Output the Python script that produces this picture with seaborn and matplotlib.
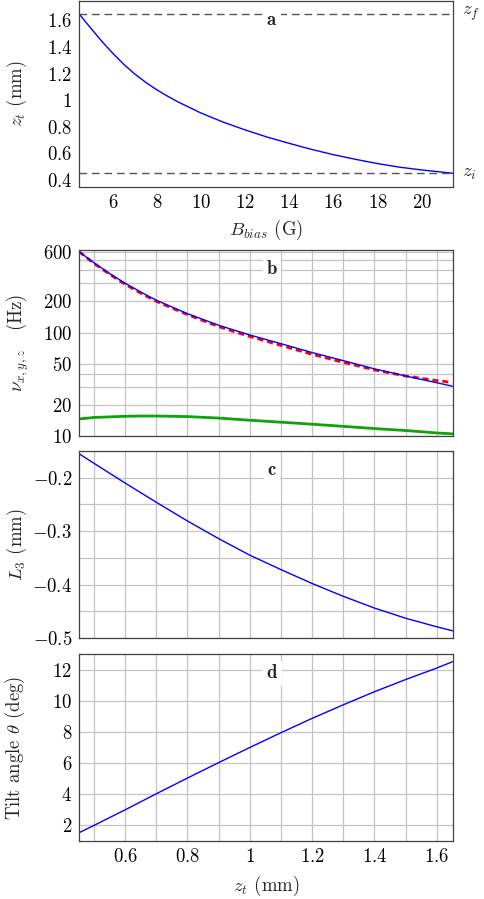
import matplotlib
matplotlib.use("Agg")
import matplotlib.pyplot as plt
import seaborn as sns
from matplotlib.ticker import FixedLocator, MultipleLocator, FuncFormatter, NullFormatter
from matplotlib.transforms import blended_transform_factory

# === Data ===
b_bias = [4.47, 4.75, 5, 5.5, 6, 6.5, 7, 7.5, 8, 8.5, 9, 10, 11, 12, 13, 14, 15, 16,
          17, 18, 19, 20, 21, 21.42]
z_t_vs_b = [1.65, 1.592, 1.542, 1.443, 1.352, 1.269, 1.196, 1.133, 1.077, 1.028, 0.983,
            0.903, 0.835, 0.776, 0.722, 0.675, 0.63, 0.59, 0.555, 0.523, 0.496, 0.475,
            0.4575, 0.45]
z_f, z_i = 1.65, 0.45

z_t_freq = [0.452, 0.5, 0.55, 0.6, 0.65, 0.7, 0.8, 0.9, 1.0, 1.1, 1.2, 1.3, 1.4, 1.5, 1.6, 1.65]
nu_xy_blue = [605, 472, 372, 299, 246, 205, 152, 117.5, 94.6, 78, 64, 53.5, 44.5, 38, 32.7, 30.3]
nu_xy_red = [605, 465, 366, 292, 240, 200, 149, 114, 91.5, 75, 61.5, 51.5, 43.5, 38, 34.3, 33]
nu_z_green = [14.6, 15.1, 15.3, 15.5, 15.6, 15.6, 15.4, 14.9, 14.2, 13.6, 13.0, 12.4, 11.8, 11.3, 10.7, 10.5]

z_t = [0.452, 0.5, 0.6, 0.7, 0.8, 0.9, 1.0, 1.1, 1.2, 1.3, 1.4, 1.5, 1.6, 1.65]
l3 = [-0.155, -0.173, -0.210, -0.246, -0.281, -0.314, -0.345, -0.372, -0.398,
      -0.422, -0.444, -0.463, -0.479, -0.4865]
tilt = [1.53, 2.0, 3.0, 4.03, 5.04, 6.03, 7.0, 7.95, 8.87, 9.74, 10.58, 11.36, 12.1, 12.5]

# === Style ===
sns.set_style("white")
plt.rcParams.update({
    "font.family": "serif",
    "font.serif": ["cmr10", "DejaVu Serif"],
    "mathtext.fontset": "cm",
    "axes.formatter.use_mathtext": True,
    "font.size": 13.5,
    "axes.edgecolor": "#404040",
    "axes.linewidth": 0.9,
    "xtick.direction": "in",
    "ytick.direction": "in",
    "xtick.color": "#707070",
    "ytick.color": "#707070",
    "xtick.labelcolor": "black",
    "ytick.labelcolor": "black",
    "xtick.major.size": 3.5,
    "ytick.major.size": 3.5,
    "xtick.minor.size": 2.0,
    "ytick.minor.size": 2.0,
    "xtick.major.width": 0.6,
    "ytick.major.width": 0.6,
    "xtick.minor.width": 0.6,
    "ytick.minor.width": 0.6,
    "xtick.major.pad": 5,
    "ytick.major.pad": 5,
})

fmt = FuncFormatter(lambda v, p: f"${v:g}$")
grid_kw = dict(color="#c4c4c4", linewidth=0.9)

fig = plt.figure(figsize=(4.84, 8.99), dpi=100)
left, width = 79 / 484, 374 / 484
ax_a = fig.add_axes([left, 1 - 187 / 899, width, 186 / 899])
ax_b = fig.add_axes([left, 1 - 436 / 899, width, 186 / 899])
ax_c = fig.add_axes([left, 1 - 638 / 899, width, 187 / 899])
ax_d = fig.add_axes([left, 1 - 841 / 899, width, 187 / 899])


def panel_tag(ax, letter):
    ax.text(0.516, 1 - 19 / 186, rf"$\mathbf{{{letter}}}$", transform=ax.transAxes,
            ha="center", va="center", fontsize=13.5, zorder=5,
            bbox=dict(facecolor="white", edgecolor="none", pad=2.5))


def place_ylabel(ax, x):
    ax.yaxis.set_label_coords(x, 0.5)
    ax.yaxis.label.set_verticalalignment("center")


# === Panel a: z_t vs B_bias ===
sns.lineplot(x=b_bias, y=z_t_vs_b, ax=ax_a, color="blue", linewidth=1.0,
             estimator=None, sort=False)
for zz in (z_f, z_i):
    ax_a.axhline(zz, color="#555555", linewidth=1.0, dashes=(5.5, 3.5))
ax_a.set_xlim(4.47, 21.42)
ax_a.set_ylim(0.347, 1.745)
ax_a.xaxis.set_major_locator(MultipleLocator(2))
ax_a.xaxis.set_minor_locator(MultipleLocator(1))
ax_a.yaxis.set_major_locator(MultipleLocator(0.2))
ax_a.yaxis.set_minor_locator(MultipleLocator(0.1))
ax_a.xaxis.set_major_formatter(fmt)
ax_a.yaxis.set_major_formatter(fmt)
ax_a.set_xlabel(r"$B_{bias}$ (G)", labelpad=4)
ax_a.set_ylabel(r"$z_t$ (mm)")
place_ylabel(ax_a, -0.166)
tr = blended_transform_factory(ax_a.transAxes, ax_a.transData)
ax_a.text(1.025, z_f, r"$z_f$", transform=tr, ha="left", va="center", fontsize=13.5)
ax_a.text(1.025, z_i, r"$z_i$", transform=tr, ha="left", va="center", fontsize=13.5)
panel_tag(ax_a, "a")

# === Panel b: trap frequencies (log) ===
sns.lineplot(x=z_t_freq, y=nu_xy_blue, ax=ax_b, color="blue", linewidth=1.0,
             estimator=None, sort=False, zorder=4)
sns.lineplot(x=z_t_freq, y=nu_xy_red, ax=ax_b, color="red", linewidth=2.0,
             estimator=None, sort=False, zorder=3)
ax_b.lines[-1].set_dashes((2.2, 1.4))
sns.lineplot(x=z_t_freq, y=nu_z_green, ax=ax_b, color="#10a010", linewidth=2.0,
             estimator=None, sort=False, zorder=3)
ax_b.set_yscale("log")
ax_b.set_ylim(10, 627)
ax_b.yaxis.set_major_locator(FixedLocator([10, 20, 50, 100, 200, 600]))
ax_b.yaxis.set_minor_locator(FixedLocator([30, 40, 300, 400, 500]))
ax_b.yaxis.set_major_formatter(fmt)
ax_b.yaxis.set_minor_formatter(NullFormatter())
ax_b.set_ylabel(r"$\nu_{x,y,z}$   (Hz)")
place_ylabel(ax_b, -0.163)
ax_b.grid(True, which="both", axis="y", **grid_kw)
panel_tag(ax_b, "b")

# === Panel c: L3 ===
sns.lineplot(x=z_t, y=l3, ax=ax_c, color="blue", linewidth=1.0,
             estimator=None, sort=False, zorder=4)
ax_c.set_ylim(-0.5, -0.15)
ax_c.yaxis.set_major_locator(MultipleLocator(0.1))
ax_c.yaxis.set_minor_locator(MultipleLocator(0.05))
ax_c.yaxis.set_major_formatter(fmt)
ax_c.set_ylabel(r"$L_3$ (mm)")
place_ylabel(ax_c, -0.166)
ax_c.grid(True, which="both", axis="y", **grid_kw)
panel_tag(ax_c, "c")

# === Panel d: tilt angle ===
sns.lineplot(x=z_t, y=tilt, ax=ax_d, color="blue", linewidth=1.0,
             estimator=None, sort=False, zorder=4)
ax_d.set_ylim(1, 13)
ax_d.yaxis.set_major_locator(MultipleLocator(2))
ax_d.yaxis.set_minor_locator(MultipleLocator(1))
ax_d.yaxis.set_major_formatter(fmt)
ax_d.set_ylabel(r"Tilt angle $\theta$ (deg)")
place_ylabel(ax_d, -0.17)
ax_d.grid(True, which="major", axis="y", **grid_kw)
ax_d.set_xlabel(r"$z_t$ (mm)", labelpad=6)
panel_tag(ax_d, "d")

# === Shared z_t axis ===
for ax in (ax_b, ax_c, ax_d):
    ax.set_xlim(0.452, 1.652)
    ax.xaxis.set_major_locator(MultipleLocator(0.2))
    ax.xaxis.set_minor_locator(MultipleLocator(0.1))
    ax.grid(True, which="both", axis="x", **grid_kw)
    ax.set_axisbelow(True)
for ax in (ax_b, ax_c):
    ax.tick_params(axis="x", labelbottom=False)
ax_d.xaxis.set_major_formatter(fmt)

for ax in (ax_a, ax_b, ax_c, ax_d):
    for s in ax.spines.values():
        s.set_zorder(6)

fig.savefig("out.png", dpi=100)
